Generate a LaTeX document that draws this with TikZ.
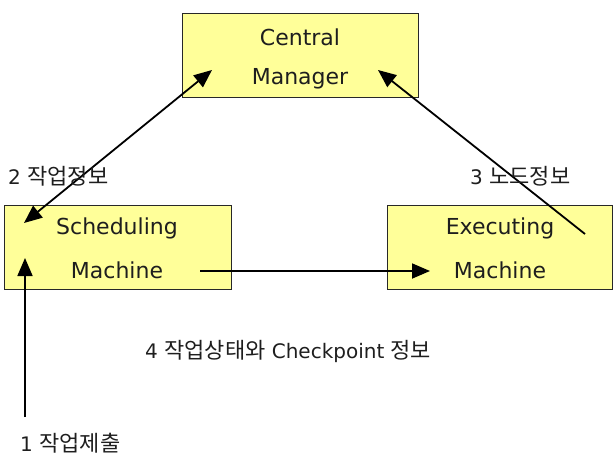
\documentclass[tikz,border=0pt]{standalone}
\usepackage{fontspec}
\setmainfont{DejaVu Sans}
\newfontfamily\kr{Noto Sans CJK KR}
\usetikzlibrary{arrows.meta}
\definecolor{boxfill}{RGB}{255,255,153}
\definecolor{boxline}{RGB}{40,40,40}
\definecolor{txt}{RGB}{30,30,30}
\newcommand{\hg}[1]{{\kr\fontsize{22}{24}\selectfont #1}}
\tikzset{
  machine/.style={draw=boxline, line width=0.9pt, fill=boxfill, inner sep=0pt},
  boxtext/.style={font=\fontsize{22}{24}\selectfont, text=txt, inner sep=0pt},
  lbl/.style={font=\fontsize{20}{22}\selectfont, text=txt, inner sep=0pt, anchor=west},
  flow/.style={line width=1.8pt, -{Triangle[length=18pt,width=15pt]}},
  twoway/.style={line width=1.8pt, {Triangle[length=18pt,width=15pt]}-{Triangle[length=18pt,width=15pt]}}
}
\begin{document}
\begin{tikzpicture}[x=1pt,y=-1pt]
\useasboundingbox (0,0) rectangle (613,458);

% the three machines
\node[machine, minimum width=236pt, minimum height=84pt] (cm) at (300,55) {};
\node[machine, minimum width=227pt, minimum height=84pt] (sm) at (117.5,247) {};
\node[machine, minimum width=225pt, minimum height=84pt] (em) at (500,247) {};

\node[boxtext] (cm1) at (300,37) {Central};
\node[boxtext] (cm2) at (300,79) {Manager};
\node[boxtext] (sm1) at (117,228) {Scheduling};
\node[boxtext] (sm2) at (117,270) {Machine};
\node[boxtext] (em1) at (500,228) {Executing};
\node[boxtext] (em2) at (500,270) {Machine};

% arrow end points
\coordinate (cmL) at (212,70);
\coordinate (cmR) at (378,70);
\coordinate (smTop) at (24,223);
\coordinate (smOut) at (200,271);
\coordinate (smIn) at (25,258);
\coordinate (emIn) at (430,271);
\coordinate (emOut) at (585,234);
\coordinate (submit) at (25,417);

% connectors
\draw[twoway] (smTop) -- (cmL);
\draw[flow] (emOut) -- (cmR);
\draw[flow] (smOut) -- (emIn);
\draw[flow] (submit) -- (smIn);

% labels
\node[lbl] (l2) at (8,176) {2 \hg{작업정보}};
\node[lbl] (l3) at (470,176) {3 \hg{노드정보}};
\node[lbl] (l4) at (145,351) {4 \hg{작업상태와} Checkpoint \hg{정보}};
\node[lbl] (l1) at (20,443) {1 \hg{작업제출}};
\end{tikzpicture}
\end{document}
